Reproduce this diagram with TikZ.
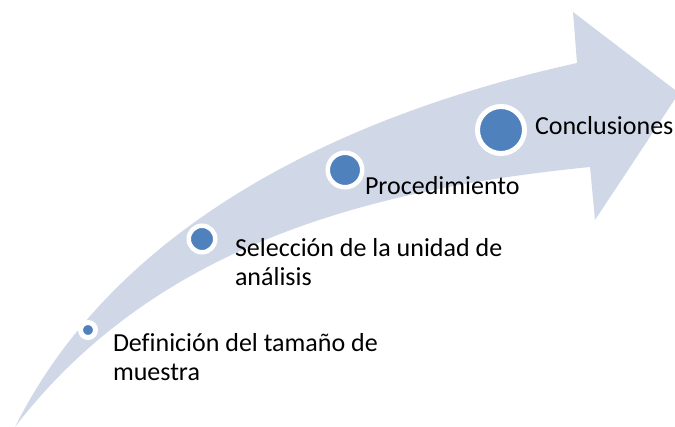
\documentclass[tikz,border=0pt]{standalone}
\usepackage{fontspec}
\setmainfont{Carlito}[Ligatures=NoCommon]
\definecolor{arrowfill}{HTML}{D0D8E8}
\definecolor{dotblue}{HTML}{4F81BD}
\tikzset{
  stepdot/.style={circle, fill=dotblue, draw=white, inner sep=0pt, outer sep=0pt},
  steplabel/.style={anchor=base west, inner sep=0pt, outer sep=0pt, align=left,
    font=\fontsize{26}{29}\selectfont, text=black}
}
\begin{document}
\begin{tikzpicture}[x=1pt,y=-1pt]
\useasboundingbox (0,0) rectangle (675,427);
\clip (0,0) rectangle (675,427);
% curved arrow
\fill[arrowfill] (15,427)
  .. controls (115,227) and (337,116) .. (577,63)
  -- (573,12) -- (679,93) -- (595,220) -- (590,167)
  .. controls (370,189) and (155,245) .. (15,427) -- cycle;
% dots
\node[stepdot, minimum size=15pt, line width=5pt] (d1) at (88,330) {};
\node[stepdot, minimum size=26.5pt, line width=4.5pt] (d2) at (202,239) {};
\node[stepdot, minimum size=34.5pt, line width=4.5pt] (d3) at (345,170) {};
\node[stepdot, minimum size=47pt, line width=5pt] (d4) at (501,130) {};
% labels (base anchor = baseline of last line)
\node[steplabel] (t1) at (113,381) {Definición del tamaño de\\muestra};
\node[steplabel] (t2) at (235,286) {Selección de la unidad de\\análisis};
\node[steplabel] (t3) at (365,195) {Procedimiento};
\node[steplabel] (t4) at (535,135) {Conclusiones};
\end{tikzpicture}
\end{document}
